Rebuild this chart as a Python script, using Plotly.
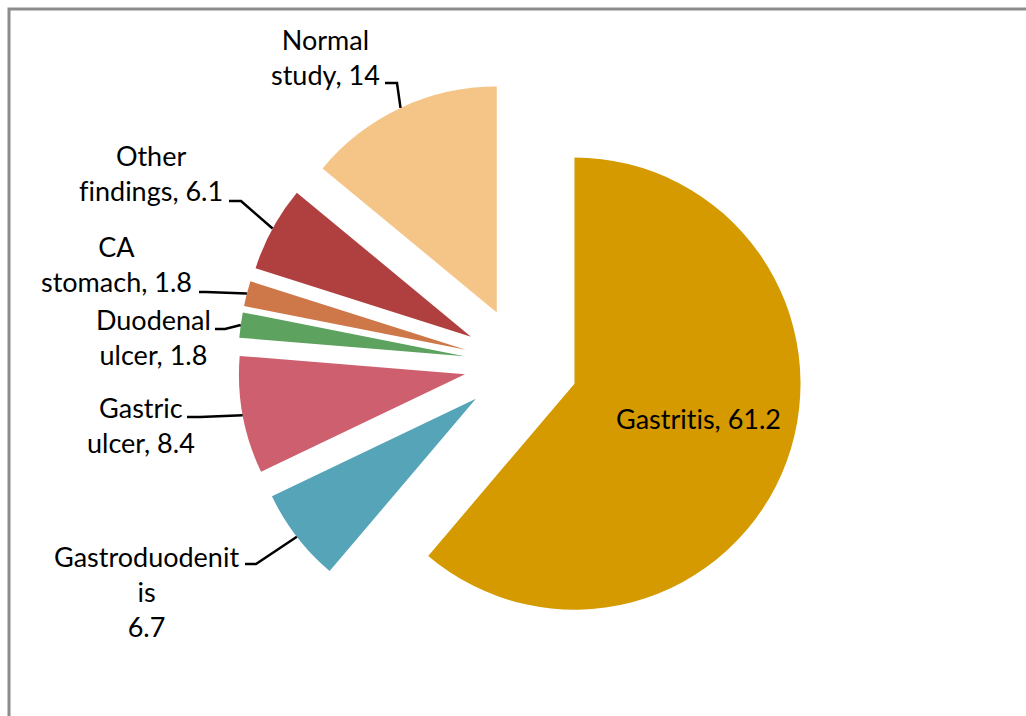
import math
import plotly.graph_objects as go

# Endoscopy findings (%)
labels = ["Gastritis", "Gastroduodenitis", "Gastric ulcer", "Duodenal ulcer",
          "CA stomach", "Other findings", "Normal study"]
values = [61.2, 6.7, 8.4, 1.8, 1.8, 6.1, 14]
colors = ["#D49A00", "#55A4B8", "#CD5F6E", "#5DA25E", "#CE7748", "#B03F3F", "#F4C587"]

# How each label is broken over lines
label_lines = [
    ["Gastritis, {v}"],
    ["Gastroduodenit", "is", "{v}"],
    ["Gastric", "ulcer, {v}"],
    ["Duodenal", "ulcer, {v}"],
    ["CA", "stomach, {v}"],
    ["Other", "findings, {v}"],
    ["Normal", "study, {v}"],
]

W, H = 1026, 716
PULL = 0.252
DOM_X = [238 / W, 804 / W]
DOM_Y = [1 - 647 / H, 1 - 81 / H]

# Label block centres (px) and leader elbows/ends (px); None = label inside slice
label_centre = [(698, 418), (146, 591), (141, 425), (153, 337), (116, 264), (151, 173), (325, 57)]
leader_end = [None, (245, 564), (187, 417), (215, 329), (199, 292), (229, 201), (385, 83)]
leader_elbow = [None, (256, 564), (200, 417), (225, 329), (206, 292), (241, 201), (397, 83)]

FONT = "Lato, Calibri, 'Open Sans', sans-serif"
ZWNJ = "\u200c"


def px(x):
    return x / W


def py(y):
    return 1 - y / H


def no_ligatures(s):
    # keep "ti" / "fi" as separate glyphs
    return s.replace("ti", "t" + ZWNJ + "i").replace("fi", "f" + ZWNJ + "i")


fig = go.Figure(go.Pie(
    labels=labels,
    values=values,
    sort=False,
    direction="clockwise",
    rotation=0,
    pull=[PULL] * len(values),
    marker=dict(colors=colors, line=dict(width=0)),
    textinfo="none",
    hoverinfo="label+value",
    domain=dict(x=DOM_X, y=DOM_Y),
    showlegend=False,
))

# Pie geometry in pixels, following plotly's pie sizing
box_w = W * (DOM_X[1] - DOM_X[0])
box_h = H * (DOM_Y[1] - DOM_Y[0])
r = min(box_w, box_h) / 2 / (1 + PULL)
cx = W * (DOM_X[0] + DOM_X[1]) / 2
cy = H * (1 - DOM_Y[0]) - box_h / 2

total = sum(values)
annotations = []
shapes = []
cum = 0.0
for i, v in enumerate(values):
    mid = (cum + v / 2) / total * 2 * math.pi
    cum += v
    dx, dy = math.sin(mid), -math.cos(mid)
    arc_x = cx + (PULL * r + r) * dx
    arc_y = cy + (PULL * r + r) * dy

    text = "<br>".join(no_ligatures(s.format(v=v)) for s in label_lines[i])
    lx, ly = label_centre[i]
    annotations.append(dict(
        x=px(lx), y=py(ly), xref="paper", yref="paper",
        text=text, showarrow=False, xanchor="center", yanchor="middle",
        align="center", font=dict(family=FONT, size=27, color="#000000"),
    ))
    if leader_end[i] is not None:
        ex, ey = leader_end[i]
        bx, by = leader_elbow[i]
        shapes.append(dict(
            type="path", xref="paper", yref="paper",
            path=f"M {px(ex)} {py(ey)} L {px(bx)} {py(by)} L {px(arc_x)} {py(arc_y)}",
            line=dict(color="#000000", width=2.5),
        ))

# Chart frame
shapes.append(dict(
    type="rect", xref="paper", yref="paper",
    x0=px(9), y0=-0.05, x1=1.05, y1=py(9),
    line=dict(color="#8C8C8C", width=3), fillcolor="rgba(0,0,0,0)",
))

fig.update_layout(
    width=W, height=H,
    margin=dict(l=0, r=0, t=0, b=0),
    paper_bgcolor="white",
    plot_bgcolor="white",
    annotations=annotations,
    shapes=shapes,
    font=dict(family=FONT),
)

fig.write_html("out.html")
